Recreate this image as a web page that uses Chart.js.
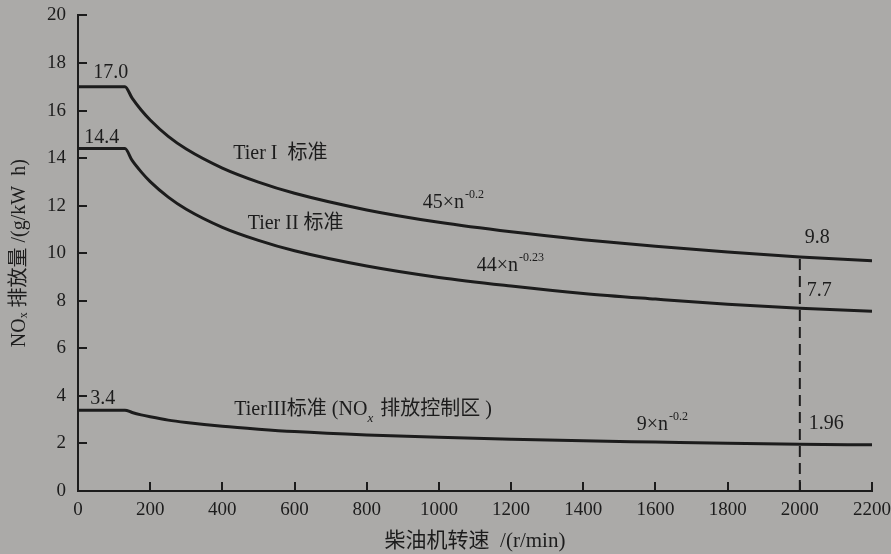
<!DOCTYPE html>
<html>
<head>
<meta charset="utf-8">
<script src="https://cdn.jsdelivr.net/npm/chart.js@4/dist/chart.umd.min.js"></script>
<style>
    html, body { margin: 0; padding: 0; background: #abaaa8; overflow: hidden; }
    #wrap { width: 891px; height: 554px; overflow: hidden; }
    #chart { display: block; }
</style>
</head>
<body>
<div id="wrap"><canvas id="chart" width="891" height="560"></canvas></div>
<script>
// engine speed (r/min) and NOx limits (g/kWh)
const speeds = [0, 130, 150, 175, 200, 250, 300, 400, 500, 600, 800, 1000, 1200, 1400, 1600, 1800, 2000, 2200];
const tier1 = [17.0, 17.0, 16.52, 16.02, 15.6, 14.91, 14.38, 13.58, 12.99, 12.52, 11.82, 11.3, 10.9, 10.57, 10.29, 10.05, 9.84, 9.68];
const tier2 = [14.4, 14.4, 13.9, 13.42, 13.01, 12.36, 11.85, 11.09, 10.54, 10.1, 9.46, 8.98, 8.62, 8.31, 8.07, 7.85, 7.68, 7.56];
const tier3 = [3.4, 3.4, 3.3, 3.2, 3.12, 2.98, 2.88, 2.72, 2.6, 2.5, 2.36, 2.26, 2.18, 2.11, 2.06, 2.01, 1.97, 1.94];
const markerSpeed = [2000, 2000];
const markerValue = [0, 9.8];

const yTicks = [0, 2, 4, 6, 8, 10, 12, 14, 16, 18, 20];
const xTicks = [0, 200, 400, 600, 800, 1000, 1200, 1400, 1600, 1800, 2000, 2200];

// annotations: [text, superscript, x, y]
const notes = [
    ['17.0', '', 42, 17.57],
    ['14.4', '', 17, 14.84],
    ['3.4', '', 34, 3.9],
    ['Tier I  标准', '', 430, 14.17],
    ['45×n', '-0.2', 955, 12.12],
    ['Tier II 标准', '', 470, 11.24],
    ['44×n', '-0.23', 1105, 9.48],
    ['9×n', '-0.2', 1548, 2.77],
    ['9.8', '', 2014, 10.65],
    ['7.7', '', 2019, 8.43],
    ['1.96', '', 2025, 2.81]
];

const serif = "'Liberation Serif', 'Noto Sans CJK SC', serif";
const ink = '#1c1c1c';

function toPoints(xs, ys) {
    return xs.map((x, i) => ({ x: x, y: ys[i] }));
}

const tickPlugin = {
    id: 'inwardTicks',
    afterDraw(chart) {
        const ctx = chart.ctx;
        const xs = chart.scales.x, ys = chart.scales.y;
        const area = chart.chartArea;
        ctx.save();
        ctx.strokeStyle = ink;
        ctx.lineWidth = 2;
        ctx.beginPath();
        yTicks.forEach(v => {
            const py = Math.round(ys.getPixelForValue(v));
            ctx.moveTo(area.left, py);
            ctx.lineTo(area.left + 9, py);
        });
        xTicks.forEach(v => {
            const px = Math.round(xs.getPixelForValue(v));
            ctx.moveTo(px, area.bottom);
            ctx.lineTo(px, area.bottom - 9);
        });
        ctx.stroke();
        ctx.restore();
    }
};

const notePlugin = {
    id: 'notes',
    afterDraw(chart) {
        const ctx = chart.ctx;
        const xs = chart.scales.x, ys = chart.scales.y;
        ctx.save();
        ctx.fillStyle = ink;
        ctx.textBaseline = 'middle';
        ctx.textAlign = 'left';
        notes.forEach(([text, sup, x, y]) => {
            const px = xs.getPixelForValue(x);
            const py = ys.getPixelForValue(y);
            ctx.font = '20px ' + serif;
            ctx.fillText(text, px, py);
            if (sup) {
                const w = ctx.measureText(text).width;
                ctx.font = '12px ' + serif;
                ctx.fillText(sup, px + w + 1, py - 8);
            }
        });

        // Tier III label with subscript x
        let px = xs.getPixelForValue(433);
        const py = ys.getPixelForValue(3.4);
        const parts = [['TierIII标准 (NO', 20, 0, 'normal'], ['x', 13, 8, 'italic'], [' 排放控制区 )', 20, 0, 'normal']];
        parts.forEach(([t, size, dy, style]) => {
            ctx.font = style + ' ' + size + 'px ' + serif;
            ctx.fillText(t, px, py + dy);
            px += ctx.measureText(t).width + (dy ? 2 : 0);
        });
        ctx.restore();
    }
};

new Chart(document.getElementById('chart'), {
    type: 'line',
    data: {
        datasets: [
            { label: 'Tier I', data: toPoints(speeds, tier1) },
            { label: 'Tier II', data: toPoints(speeds, tier2) },
            { label: 'Tier III', data: toPoints(speeds, tier3) },
            { label: 'n=2000', data: toPoints(markerSpeed, markerValue), borderDash: [11, 6], borderWidth: 2, cubicInterpolationMode: 'default' }
        ]
    },
    options: {
        responsive: false,
        animation: false,
        layout: { padding: { top: 8, right: 15, left: 0, bottom: 0 } },
        elements: {
            point: { radius: 0 },
            line: { borderColor: ink, borderWidth: 3, cubicInterpolationMode: 'monotone', fill: false }
        },
        plugins: {
            legend: { display: false },
            tooltip: { enabled: false }
        },
        scales: {
            x: {
                type: 'linear',
                min: 0,
                max: 2200,
                afterFit: s => { s.height = 69; },
                grid: { display: false },
                border: { display: true, color: ink, width: 2 },
                ticks: { stepSize: 200, autoSkip: false, maxRotation: 0, padding: 0, color: ink, font: { family: serif, size: 19 }, callback: v => String(v) },
                title: { display: true, text: '柴油机转速  /(r/min)', color: ink, font: { family: serif, size: 21 }, padding: { top: 2, bottom: 6 } }
            },
            y: {
                min: 0,
                max: 20,
                afterFit: s => { s.width = 78; },
                grid: { display: false },
                border: { display: true, color: ink, width: 2 },
                ticks: { stepSize: 2, padding: 4, color: ink, font: { family: serif, size: 19 }, callback: v => String(v) },
                title: { display: true, text: 'NOₓ 排放量 /(g/kW  h)', color: ink, font: { family: serif, size: 20 }, padding: { top: 8, bottom: 0 } }
            }
        }
    },
    plugins: [tickPlugin, notePlugin]
});
</script>
</body>
</html>
